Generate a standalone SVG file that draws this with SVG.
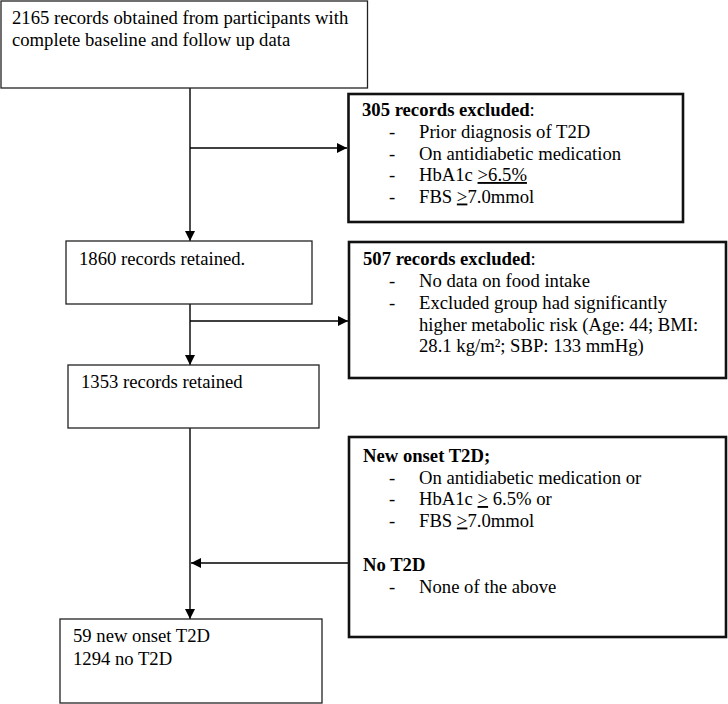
<svg xmlns="http://www.w3.org/2000/svg" width="728" height="704" viewBox="0 0 728 704">
<style>
text{font-family:"Liberation Serif","Times New Roman",serif;font-size:18.67px;fill:#000}
.b{font-weight:bold}
.u{text-decoration:underline}
.thin{fill:#fff;stroke:#222;stroke-width:1.3}
.thick{fill:#fff;stroke:#111;stroke-width:2.6}
.conn{stroke:#000;stroke-width:1.4;fill:none}
</style>
<defs>
<marker id="ah" viewBox="0 0 10 10" refX="10" refY="5" markerWidth="10" markerHeight="10" markerUnits="userSpaceOnUse" orient="auto">
<path d="M0,0 L10,5 L0,10 Z" fill="#000"/>
</marker>
</defs>
<rect width="728" height="704" fill="#fff"/>
<g id="connectors">
<line class="conn" x1="190" y1="88" x2="190" y2="241" marker-end="url(#ah)"/>
<line class="conn" x1="190" y1="148" x2="347" y2="148" marker-end="url(#ah)"/>
<line class="conn" x1="190" y1="304" x2="190" y2="365" marker-end="url(#ah)"/>
<line class="conn" x1="190" y1="321" x2="348" y2="321" marker-end="url(#ah)"/>
<line class="conn" x1="190" y1="428" x2="190" y2="619" marker-end="url(#ah)"/>
<line class="conn" x1="349" y1="563" x2="191" y2="563" marker-end="url(#ah)"/>
</g>
<g id="n2165">
<rect class="thin" x="1" y="1" width="366.5" height="87"/>
<text x="12" y="24">2165 records obtained from participants with</text>
<text x="12" y="45.5">complete baseline and follow up data</text>
</g>
<g id="n305">
<rect class="thick" x="348.5" y="94" width="334.5" height="128"/>
<text x="362" y="116"><tspan class="b">305 records excluded</tspan>:</text>
<text x="389" y="138">-</text><text x="419" y="138">Prior diagnosis of T2D</text>
<text x="389" y="159.5">-</text><text x="419" y="159.5">On antidiabetic medication</text>
<text x="389" y="181">-</text><text x="419" y="181">HbA1c <tspan class="u">&gt;6.5%</tspan></text>
<text x="389" y="202.5">-</text><text x="419" y="202.5">FBS <tspan class="u">&gt;</tspan>7.0mmol</text>
</g>
<g id="n1860">
<rect class="thin" x="66" y="241" width="246" height="63"/>
<text x="79" y="265">1860 records retained.</text>
</g>
<g id="n507">
<rect class="thick" x="349" y="242" width="377" height="136"/>
<text x="363" y="265"><tspan class="b">507 records excluded</tspan>:</text>
<text x="389" y="287">-</text><text x="419" y="287">No data on food intake</text>
<text x="389" y="309">-</text><text x="419" y="309">Excluded group had significantly</text>
<text x="419" y="330.5">higher metabolic risk (Age: 44; BMI:</text>
<text x="419" y="352">28.1 kg/m²; SBP: 133 mmHg)</text>
</g>
<g id="n1353">
<rect class="thin" x="68" y="365" width="251" height="63"/>
<text x="81" y="388">1353 records retained</text>
</g>
<g id="nOutcome">
<rect class="thick" x="349" y="437" width="377" height="200"/>
<text class="b" x="363" y="462">New onset T2D;</text>
<text x="389" y="483.5">-</text><text x="419" y="483.5">On antidiabetic medication or</text>
<text x="389" y="505">-</text><text x="419" y="505">HbA1c <tspan class="u">&gt;</tspan> 6.5% or</text>
<text x="389" y="526.5">-</text><text x="419" y="526.5">FBS <tspan class="u">&gt;</tspan>7.0mmol</text>
<text class="b" x="363" y="571">No T2D</text>
<text x="389" y="593">-</text><text x="419" y="593">None of the above</text>
</g>
<g id="nFinal">
<rect class="thin" x="60" y="619" width="262" height="84"/>
<text x="73" y="642">59 new onset T2D</text>
<text x="73" y="664.5">1294 no T2D</text>
</g>
</svg>
